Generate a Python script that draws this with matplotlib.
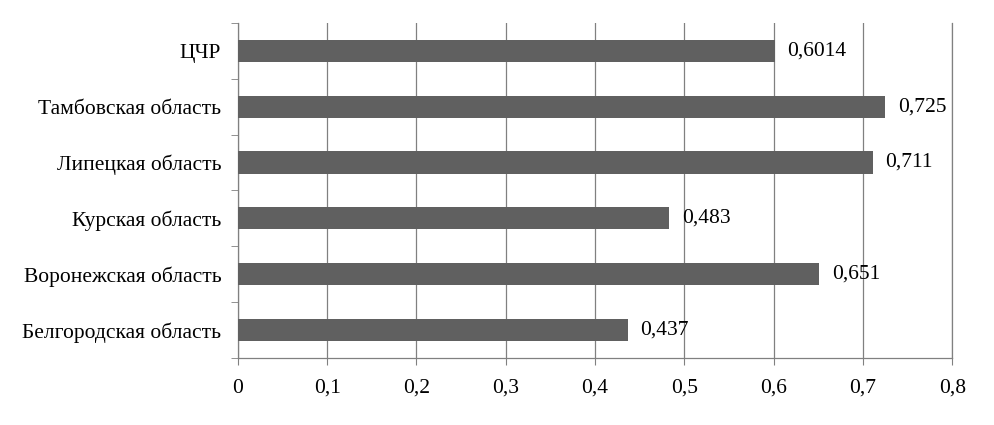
import matplotlib.pyplot as plt
import numpy as np

regions = ['Белгородская область', 'Воронежская область', 'Курская область',
           'Липецкая область', 'Тамбовская область', 'ЦЧР']
values = [0.437, 0.651, 0.483, 0.711, 0.725, 0.6014]
value_labels = ['0,437', '0,651', '0,483', '0,711', '0,725', '0,6014']
xticks = [0, 0.1, 0.2, 0.3, 0.4, 0.5, 0.6, 0.7, 0.8]
xtick_labels = ['0', '0,1', '0,2', '0,3', '0,4', '0,5', '0,6', '0,7', '0,8']

plt.rcParams['font.family'] = ['Liberation Serif', 'DejaVu Serif']
fs = 15.5

fig = plt.figure(figsize=(9.95, 4.25), dpi=100)
ax = fig.add_axes([0.239, 0.158, 0.718, 0.788])

y = np.arange(len(regions))
ax.barh(y, values, height=0.4, color='#606060', zorder=3)

for yi, v, lab in zip(y, values, value_labels):
    ax.text(v + 0.014, yi, lab, va='center', ha='left', fontsize=fs, zorder=4)

ax.set_xlim(0, 0.8)
ax.set_ylim(-0.5, len(regions) - 0.5)
ax.set_xticks(xticks)
ax.set_xticklabels(xtick_labels, fontsize=fs)
ax.set_yticks(y)
ax.set_yticklabels(regions, fontsize=fs)
ax.set_yticks(np.arange(-0.5, len(regions)), minor=True)
ax.tick_params(axis='y', which='major', length=0, pad=12)
ax.tick_params(axis='y', which='minor', length=5, color='#808080', direction='out')
ax.tick_params(axis='x', length=5, color='#808080', direction='out', pad=10)

ax.grid(axis='x', color='#808080', linewidth=0.9, zorder=0)
ax.spines['top'].set_visible(False)
for s in ['left', 'bottom', 'right']:
    ax.spines[s].set_color('#808080')
    ax.spines[s].set_linewidth(0.9)

fig.savefig('out.png', dpi=100)
